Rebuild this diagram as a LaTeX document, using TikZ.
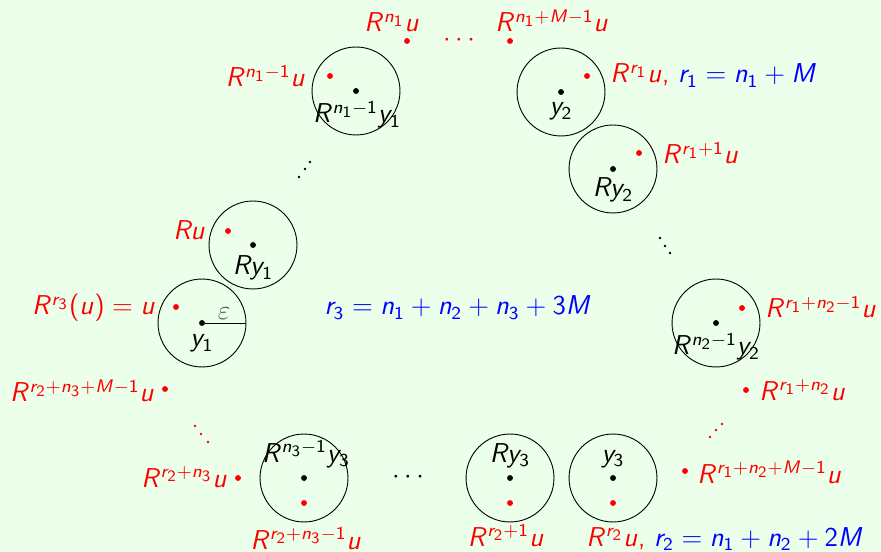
\documentclass[tikz,border=0pt]{standalone}
\usetikzlibrary{positioning, calc}
\definecolor{bgreen}{RGB}{235,255,235}
\DeclareSymbolFont{cmletters}{OML}{cmm}{m}{it}
\SetSymbolFont{letters}{normal}{OT1}{cmss}{m}{sl}
\SetSymbolFont{operators}{normal}{OT1}{cmss}{m}{n}
\DeclareMathSymbol{\varepsilon}{\mathord}{cmletters}{"22}
\DeclareMathSizes{11.7}{11.7}{8.2}{6.8}

\begin{document}
\begin{tikzpicture}[x=0.44pt, y=-0.44pt, font=\fontsize{11.7}{14}\selectfont\sffamily]
\tikzset{disc/.style={draw, circle, minimum size=38.7pt, inner sep=0pt},
  ctr/.style={circle, fill=black, inner sep=0pt, minimum size=2.6pt},
  rpt/.style={circle, fill=red, inner sep=0pt, minimum size=2.6pt},
  lbl/.style={inner sep=0pt, anchor=base},
  rlbl/.style={lbl, text=red},
  sdot/.style={circle, fill, inner sep=0pt, minimum size=1.3pt}}
\fill[bgreen] (0,0) rectangle (881,552);
\useasboundingbox (0,0) rectangle (881,552);

% the balls
\node[disc] (B1) at (202,323) {};
\node[disc] (B2) at (253,245) {};
\node[disc] (B3) at (356,91) {};
\node[disc] (B4) at (561,92) {};
\node[disc] (B5) at (613,169) {};
\node[disc] (B6) at (716,323) {};
\node[disc] (B7) at (304,478) {};
\node[disc] (B8) at (510,478) {};
\node[disc] (B9) at (613,478) {};
\foreach \b in {1,...,9} \node[ctr] (C\b) at (B\b) {};
\draw (C1) -- (B1.east);
\node[lbl, text=black!70] (eps) at (224,320) {$\varepsilon$};

% centres
\node[lbl] (Y1) at (202,347) {$y_1$};
\node[lbl] (Y2) at (253,275) {$Ry_1$};
\node[lbl] (Y3) at (357,123) {$R^{n_1-1}y_1$};
\node[lbl] (Y4) at (561,115) {$y_2$};
\node[lbl] (Y5) at (613,197) {$Ry_2$};
\node[lbl] (Y6) at (716,355) {$R^{n_2-1}y_2$};
\node[lbl] (Y7) at (306,462) {$R^{n_3-1}y_3$};
\node[lbl] (Y8) at (510,462) {$Ry_3$};
\node[lbl] (Y9) at (613,462) {$y_3$};

% the orbit of u
\node[rpt] (P1) at (176,307) {};
\node[rpt] (P2) at (228,231) {};
\node[rpt] (P3) at (330,76) {};
\node[rpt] (P4) at (407,41) {};
\node[rpt] (P5) at (510,41) {};
\node[rpt] (P6) at (587,76) {};
\node[rpt] (P7) at (639,153) {};
\node[rpt] (P8) at (742,308) {};
\node[rpt] (P9) at (746,390) {};
\node[rpt] (P10) at (685,471) {};
\node[rpt] (P11) at (613,503) {};
\node[rpt] (P12) at (510,503) {};
\node[rpt] (P13) at (304,503) {};
\node[rpt] (P14) at (238,478) {};
\node[rpt] (P15) at (165,389) {};

\node[rlbl, anchor=base east] (L1) at (156,315) {$R^{r_3}(u)=u$};
\node[rlbl, anchor=base east] (L2) at (206,240) {$Ru$};
\node[rlbl, anchor=base east] (L3) at (306,87) {$R^{n_1-1}u$};
\node[rlbl] (L4) at (392,32) {$R^{n_1}u$};
\node[rlbl] (L5) at (552,32) {$R^{n_1+M-1}u$};
\node[rlbl, anchor=base west] (L6) at (610,83) {$R^{r_1}u$, \textcolor{blue}{$r_1=n_1+M$}};
\node[rlbl, anchor=base west] (L7) at (662,164) {$R^{r_1+1}u$};
\node[rlbl, anchor=base west] (L8) at (765,318) {$R^{r_1+n_2-1}u$};
\node[rlbl, anchor=base west] (L9) at (759,400) {$R^{r_1+n_2}u$};
\node[rlbl, anchor=base west] (L10) at (697,483) {$R^{r_1+n_2+M-1}u$};
\node[rlbl, anchor=base west] (L11) at (586,546) {$R^{r_2}u$, \textcolor{blue}{$r_2=n_1+n_2+2M$}};
\node[rlbl] (L12) at (506,546) {$R^{r_2+1}u$};
\node[rlbl] (L13) at (306,549) {$R^{r_2+n_3-1}u$};
\node[rlbl, anchor=base east] (L14) at (228,487) {$R^{r_2+n_3}u$};
\node[rlbl, anchor=base east] (L15) at (155,402) {$R^{r_2+n_3+M-1}u$};
\node[lbl, text=blue] (R3) at (458,315) {$r_3=n_1+n_2+n_3+3M$};

% dots
\node[inner sep=0pt, text=red] (D1) at (459,40) {$\cdots$};
\node[inner sep=0pt] (D2) at (408,477) {$\cdots$};
\foreach \x/\y [count=\i] in {299/177,305/169,310/162} \node[sdot] (E\i) at (\x,\y) {};
\foreach \x/\y [count=\i] in {660/238,665/246,670/253} \node[sdot] (F\i) at (\x,\y) {};
\foreach \x/\y [count=\i] in {710/437,716/430,722/424} \node[sdot, red] (G\i) at (\x,\y) {};
\foreach \x/\y [count=\i] in {195/426,201/434,208/442} \node[sdot, red] (H\i) at (\x,\y) {};
\end{tikzpicture}
\end{document}
